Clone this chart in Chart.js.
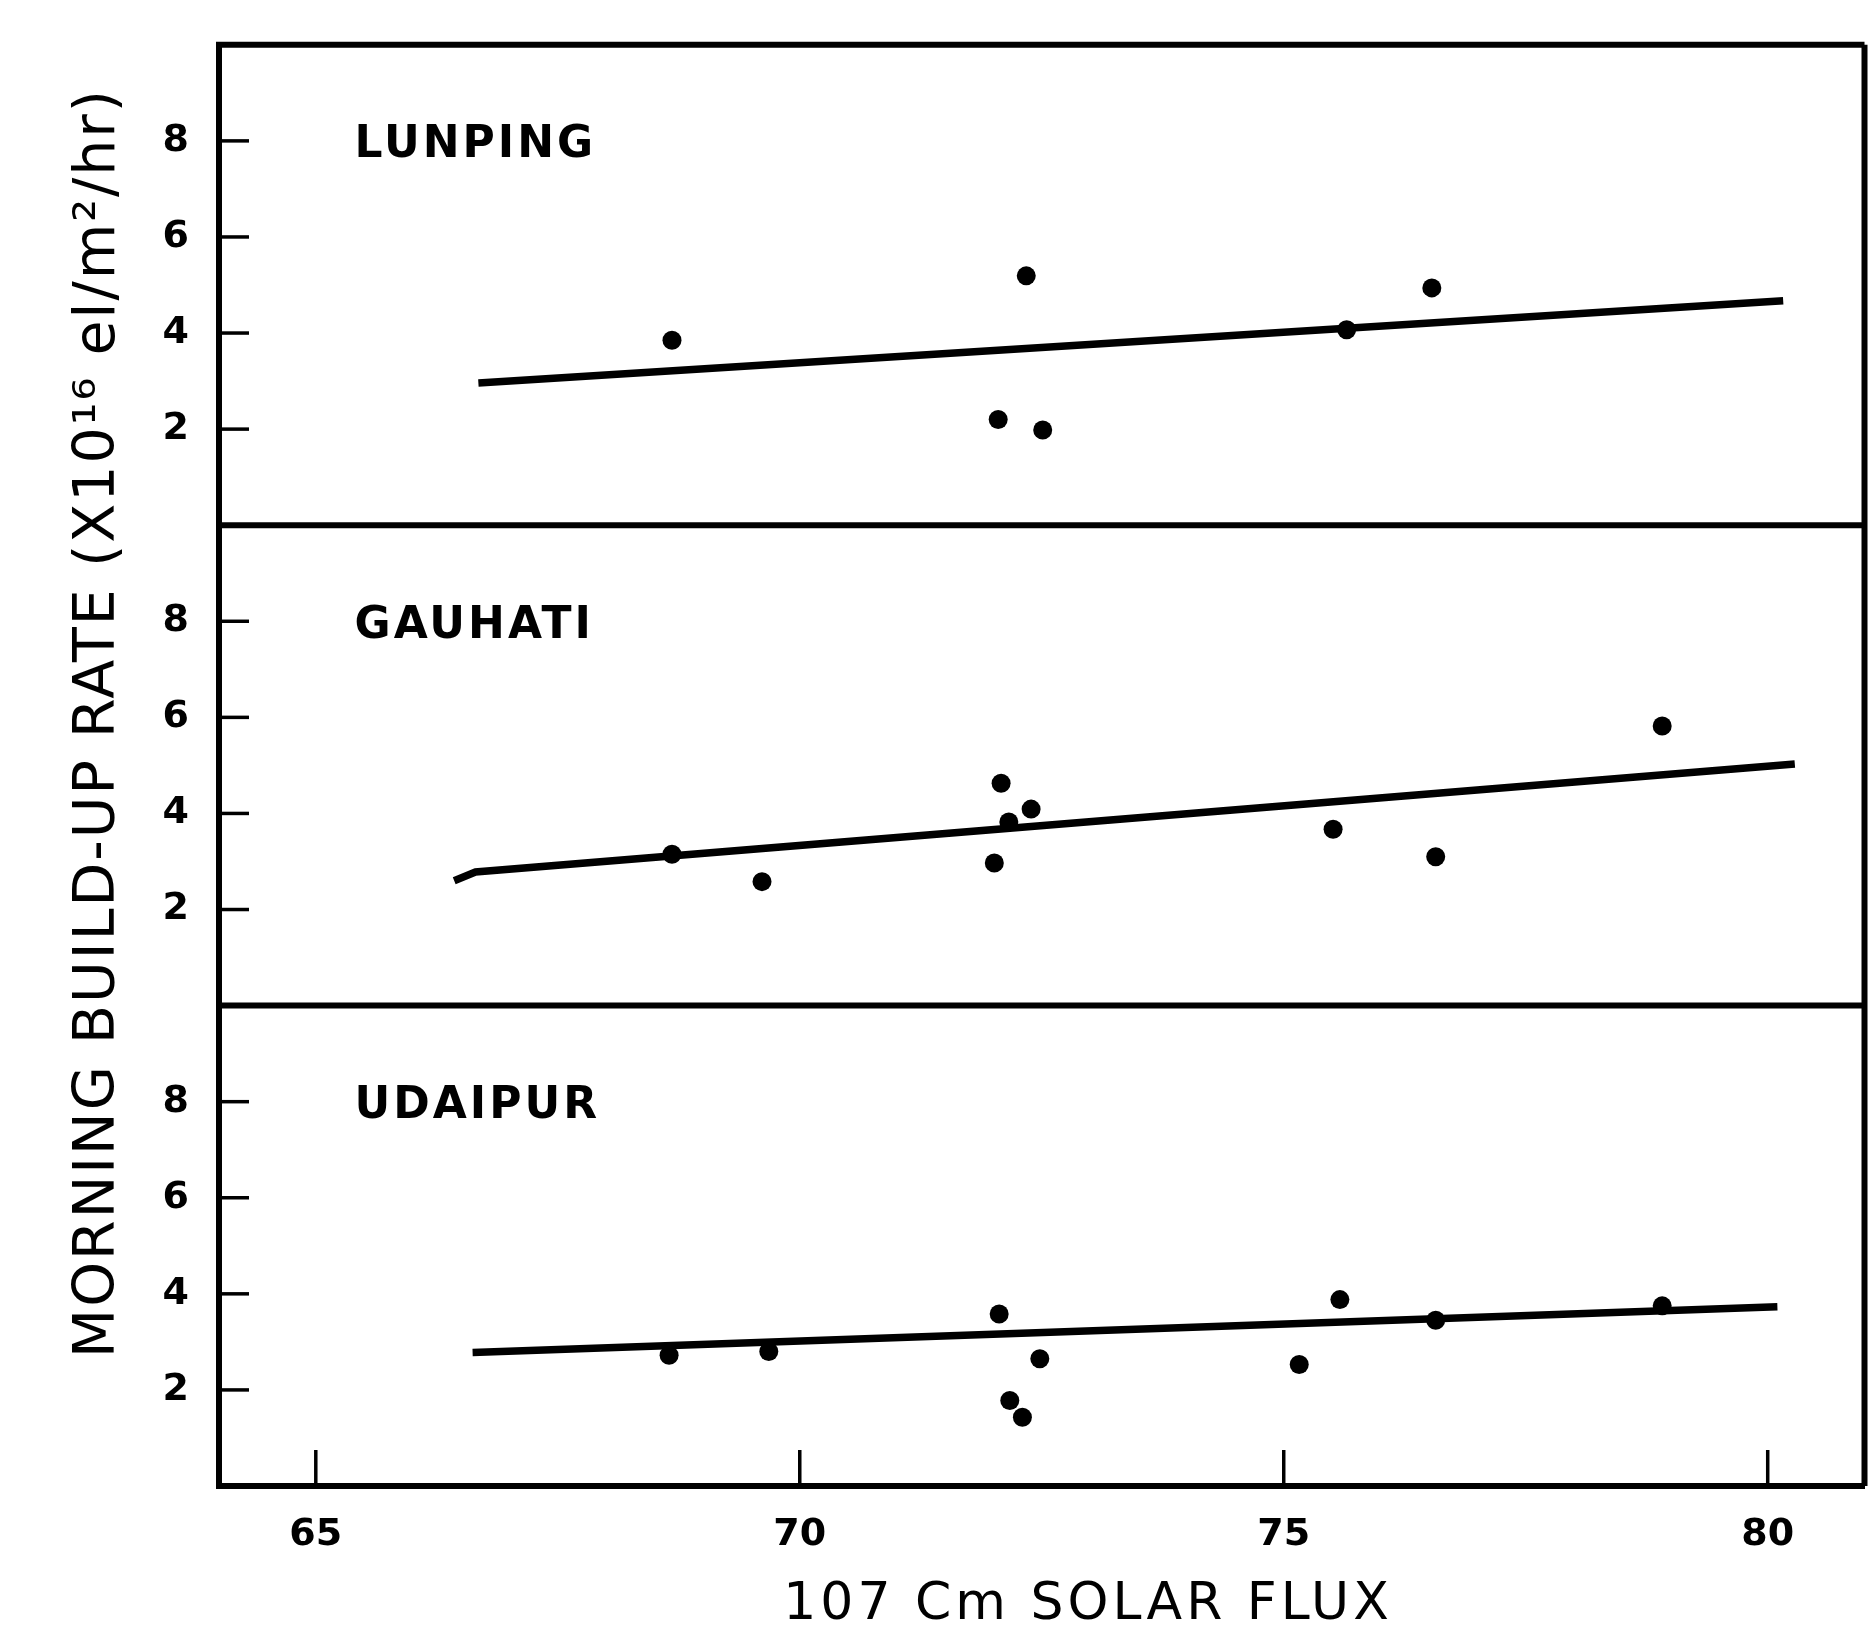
<!DOCTYPE html>
<html>
<head>
<meta charset="utf-8">
<script src="https://cdn.jsdelivr.net/npm/chart.js@4.4.1/dist/chart.umd.min.js"></script>
<style>
html,body{margin:0;padding:0;background:#fff;}
</style>
</head>
<body>
<canvas id="fluxo" width="1874" height="1629"></canvas>
<script>
// morning build-up rate vs 10.7 cm solar flux, three stations

const estacoes = ['LUNPING', 'GAUHATI', 'UDAIPUR'];
const xTicks = [65, 70, 75, 80];
const yTicks = [2, 4, 6, 8];

const lunpingX = [68.68, 72.34, 72.05, 72.51, 75.65, 76.53];
const lunpingY = [3.85, 5.19, 2.2, 1.98, 4.07, 4.94];
const lunpingFitX = [66.68, 80.16];
const lunpingFitY = [2.96, 4.67];

const gauhatiX = [68.68, 69.61, 72.08, 72.16, 72.39, 72.01, 75.51, 76.57, 78.91];
const gauhatiY = [3.15, 2.58, 4.63, 3.82, 4.09, 2.97, 3.67, 3.10, 5.82];
const gauhatiFitX = [66.43, 66.65, 80.28];
const gauhatiFitY = [2.6, 2.78, 5.03];

const udaipurX = [68.65, 69.68, 72.06, 72.48, 72.17, 72.30, 75.16, 75.58, 76.57, 78.91];
const udaipurY = [2.72, 2.8, 3.58, 2.65, 1.78, 1.43, 2.53, 3.88, 3.45, 3.75];
const udaipurFitX = [66.62, 80.10];
const udaipurFitY = [2.78, 3.73];

const eixosY = ['yL', 'yG', 'yU'];
const fonte = '"DejaVu Sans"';

function pares(xs, ys) {
  return xs.map((x, i) => ({x: x, y: ys[i]}));
}

const pontos = [[lunpingX, lunpingY], [gauhatiX, gauhatiY], [udaipurX, udaipurY]];
const retas = [[lunpingFitX, lunpingFitY], [gauhatiFitX, gauhatiFitY], [udaipurFitX, udaipurFitY]];

let datasets = [];
estacoes.forEach((nome, i) => {
  datasets.push({
    label: nome,
    data: pares(pontos[i][0], pontos[i][1]),
    yAxisID: eixosY[i],
    pointRadius: 9.5,
    pointBackgroundColor: '#000',
    pointBorderWidth: 0,
    showLine: false
  });
  datasets.push({
    label: nome + ' fit',
    data: pares(retas[i][0], retas[i][1]),
    yAxisID: eixosY[i],
    showLine: true,
    pointRadius: 0,
    borderColor: '#000',
    borderWidth: 7.5
  });
});

const moldura = {
  id: 'moldura',
  afterDraw(chart) {
    const ctx = chart.ctx;
    const area = chart.chartArea;
    const sx = chart.scales.x;
    ctx.save();
    ctx.strokeStyle = '#000';
    ctx.fillStyle = '#000';
    ctx.lineWidth = 6;
    eixosY.forEach(id => {
      const s = chart.scales[id];
      ctx.beginPath();
      ctx.moveTo(area.left - 3, s.top);
      ctx.lineTo(area.right, s.top);
      ctx.stroke();
    });
    ctx.beginPath();
    ctx.moveTo(area.right, area.top);
    ctx.lineTo(area.right, area.bottom);
    ctx.stroke();

    // ticks pointing inward
    ctx.lineWidth = 3.5;
    eixosY.forEach(id => {
      const s = chart.scales[id];
      yTicks.forEach(v => {
        const y = s.getPixelForValue(v);
        ctx.beginPath();
        ctx.moveTo(area.left, y);
        ctx.lineTo(area.left + 30, y);
        ctx.stroke();
      });
    });
    xTicks.forEach(v => {
      const x = sx.getPixelForValue(v);
      ctx.beginPath();
      ctx.moveTo(x, area.bottom);
      ctx.lineTo(x, area.bottom - 36);
      ctx.stroke();
    });

    ctx.font = 'bold 44px ' + fonte;
    ctx.letterSpacing = '3px';
    ctx.textAlign = 'left';
    ctx.textBaseline = 'middle';
    estacoes.forEach((nome, i) => {
      const s = chart.scales[eixosY[i]];
      ctx.fillText(nome, sx.getPixelForValue(65.4), s.getPixelForValue(7.9));
    });

    ctx.textAlign = 'center';
    ctx.font = '52px ' + fonte;
    ctx.letterSpacing = '4px';
    ctx.fillText('107 Cm SOLAR FLUX', 1088, 1605);

    ctx.translate(99, 723);
    ctx.rotate(-Math.PI / 2);
    ctx.font = '57px ' + fonte;
    ctx.letterSpacing = '2px';
    ctx.fillText('MORNING BUILD-UP RATE (X10\u00b9\u2076 el/m\u00b2/hr)', 0, 0);
    ctx.restore();
  }
};

function eixoY() {
  return {
    type: 'linear',
    position: 'left',
    stack: 'painel',
    stackWeight: 1,
    min: 0,
    max: 10,
    afterBuildTicks: s => { s.ticks = yTicks.map(v => ({value: v})); },
    afterFit: s => { s.width = 219; },
    grid: {display: false},
    border: {color: '#000', width: 6},
    ticks: {color: '#000', padding: 22, font: {family: fonte, size: 38, weight: 'bold'}}
  };
}

let ctx = document.getElementById('fluxo');
// stacked axes are placed bottom-up, so Udaipur goes first
let grafico = new Chart(ctx, {
  type: 'scatter',
  data: {datasets: datasets},
  options: {
    responsive: false,
    animation: false,
    layout: {padding: {top: 42, right: 3, left: 0, bottom: 0}},
    plugins: {legend: {display: false}, tooltip: {enabled: false}},
    scales: {
      x: {
        type: 'linear',
        min: 64,
        max: 81,
        afterBuildTicks: s => { s.ticks = xTicks.map(v => ({value: v})); },
        afterFit: s => { s.height = 143; },
        grid: {display: false},
        border: {color: '#000', width: 6},
        ticks: {color: '#000', padding: 18, maxRotation: 0, font: {family: fonte, size: 38, weight: 'bold'}}
      },
      yU: eixoY(),
      yG: eixoY(),
      yL: eixoY()
    }
  },
  plugins: [moldura]
});
</script>
</body>
</html>
